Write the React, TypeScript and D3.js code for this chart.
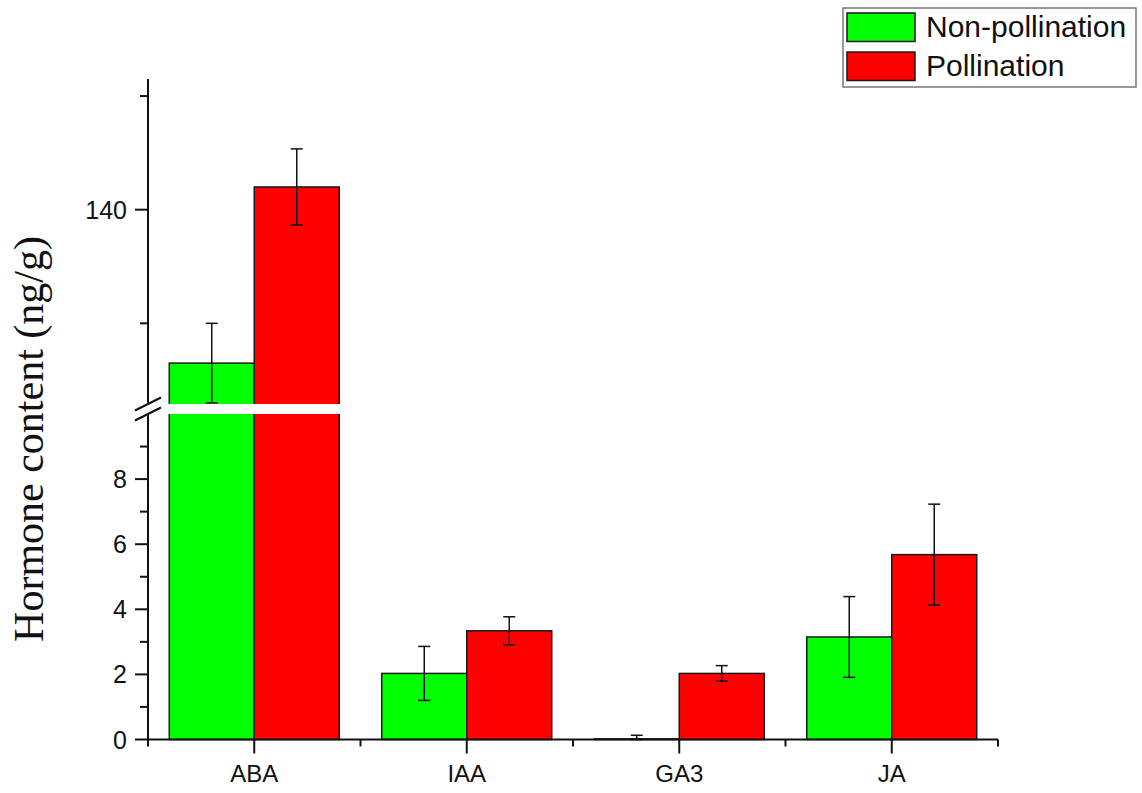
import React from 'react';
import * as d3 from 'd3';

const categories = ['ABA', 'IAA', 'GA3', 'JA'];
const seriesNames = ['Non-pollination', 'Pollination'];
const seriesColors = ['#00ff00', '#ff0000'];
const nonPollination = [126.5, 2.03, 0.02, 3.15];
const nonPollinationErr = [3.5, 0.83, 0.11, 1.24];
const pollination = [142.0, 3.34, 2.03, 5.68];
const pollinationErr = [3.35, 0.43, 0.24, 1.55];

const lowMajorTicks = [0, 2, 4, 6, 8];
const lowMinorTicks = [1, 3, 5, 7, 9];
const highMajorTicks = [140];
const highMinorTicks = [130, 150];

const W = 1142;
const H = 793;
const axisX = 148;
const axisRight = 998;
const baseY = 739.5;
const breakTop = 404;
const breakBottom = 414;
const LOW_MAX = 10;
const HIGH_MIN = 122.9;

const sans = '"Liberation Sans", Arial, sans-serif';
const serif = '"Liberation Serif", "Times New Roman", serif';

const x = d3.scaleBand<string>().domain(categories).range([axisX, axisRight]).paddingInner(0).paddingOuter(0);
const inner = d3.scaleBand<number>().domain([0, 1]).range([0, x.bandwidth() * 0.8]);
const yLow = d3.scaleLinear().domain([0, LOW_MAX]).range([baseY, breakBottom]);
const yHigh = d3.scaleLinear().domain([HIGH_MIN, 151.5]).range([breakTop, 79]);

// value -> pixel on the broken axis
const yPos = (v: number) => (v <= LOW_MAX ? yLow(v) : yHigh(Math.max(v, HIGH_MIN)));

const series = [
  { values: nonPollination, errs: nonPollinationErr },
  { values: pollination, errs: pollinationErr },
];

export default function App() {
  const bars: React.ReactNode[] = [];
  const errs: React.ReactNode[] = [];
  series.forEach((s, si) => {
    categories.forEach((c, ci) => {
      const x0 = (x(c) as number) + x.bandwidth() * 0.1 + (inner(si) as number);
      const w = inner.bandwidth();
      const v = s.values[ci];
      const top = yPos(v);
      bars.push(
        <rect key={`b${si}${ci}`} x={x0} y={top} width={w} height={baseY - top}
          fill={seriesColors[si]} stroke="#1a1a1a" strokeWidth={1.5} />
      );
      const cx = x0 + w / 2;
      const e1 = yPos(v + s.errs[ci]);
      const e0 = yPos(Math.max(0, v - s.errs[ci]));
      errs.push(
        <g key={`e${si}${ci}`} stroke="#111" strokeWidth={1.5}>
          <line x1={cx} x2={cx} y1={e1} y2={e0} />
          <line x1={cx - 6} x2={cx + 6} y1={e1} y2={e1} />
          <line x1={cx - 6} x2={cx + 6} y1={e0} y2={e0} />
        </g>
      );
    });
  });

  const bounds = d3.range(categories.length + 1).map((i) => axisX + i * x.step());

  return (
    <div style={{ position: 'absolute', left: 0, top: 0 }}>
      <svg width={W} height={H} style={{ display: 'block', background: '#fff' }}>
        {bars}
        {errs}
        {/* break gap */}
        <rect x={axisX + 2} y={breakTop} width={axisRight - axisX} height={breakBottom - breakTop} fill="#fff" />

        {/* y axis, upper and lower parts */}
        <g stroke="#111" strokeWidth={2}>
          <line x1={axisX} x2={axisX} y1={79} y2={breakTop} />
          <line x1={axisX} x2={axisX} y1={breakBottom} y2={baseY} />
          {lowMajorTicks.map((t) => (
            <line key={`lm${t}`} x1={axisX - 13} x2={axisX} y1={yLow(t)} y2={yLow(t)} />
          ))}
          {lowMinorTicks.map((t) => (
            <line key={`ln${t}`} x1={axisX - 8} x2={axisX} y1={yLow(t)} y2={yLow(t)} />
          ))}
          {highMajorTicks.map((t) => (
            <line key={`hm${t}`} x1={axisX - 13} x2={axisX} y1={yHigh(t)} y2={yHigh(t)} />
          ))}
          {highMinorTicks.map((t) => (
            <line key={`hn${t}`} x1={axisX - 8} x2={axisX} y1={yHigh(t)} y2={yHigh(t)} />
          ))}
        </g>
        {/* break marks */}
        <g stroke="#111" strokeWidth={2}>
          <line x1={axisX - 13} x2={axisX + 13} y1={breakTop + 6.5} y2={breakTop - 6.5} />
          <line x1={axisX - 13} x2={axisX + 13} y1={breakBottom + 6.5} y2={breakBottom - 6.5} />
        </g>
        <g fontFamily={sans} fontSize={25} fill="#111" textAnchor="end">
          {lowMajorTicks.map((t) => (
            <text key={`lt${t}`} x={axisX - 21} y={yLow(t)} dy="0.36em">{t}</text>
          ))}
          {highMajorTicks.map((t) => (
            <text key={`ht${t}`} x={axisX - 21} y={yHigh(t)} dy="0.36em">{t}</text>
          ))}
        </g>

        {/* x axis */}
        <g stroke="#111" strokeWidth={2}>
          <line x1={axisX} x2={axisRight} y1={baseY} y2={baseY} />
          {categories.map((c) => {
            const cx = (x(c) as number) + x.bandwidth() / 2;
            return <line key={`xt${c}`} x1={cx} x2={cx} y1={baseY} y2={baseY + 14} />;
          })}
          {bounds.map((b, i) => (
            <line key={`xm${i}`} x1={b} x2={b} y1={baseY} y2={baseY + 7} />
          ))}
        </g>
        <g fontFamily={sans} fontSize={24} fill="#111" textAnchor="middle">
          {categories.map((c) => (
            <text key={`xl${c}`} x={(x(c) as number) + x.bandwidth() / 2} y={782}>{c}</text>
          ))}
        </g>

        {/* y label */}
        <text transform="translate(43,439) rotate(-90)" textAnchor="middle"
          fontFamily={serif} fontSize={42} fill="#111">Hormone content (ng/g)</text>

        {/* legend */}
        <rect x={843} y={8} width={293} height={79} fill="#fff" stroke="#777" strokeWidth={1.5} />
        {seriesNames.map((n, i) => (
          <g key={n}>
            <rect x={847} y={13 + i * 39} width={68} height={28.5} fill={seriesColors[i]} stroke="#1a1a1a" strokeWidth={1.5} />
            <text x={926} y={37 + i * 39} fontFamily={sans} fontSize={30} fill="#111">{n}</text>
          </g>
        ))}
      </svg>
    </div>
  );
}
